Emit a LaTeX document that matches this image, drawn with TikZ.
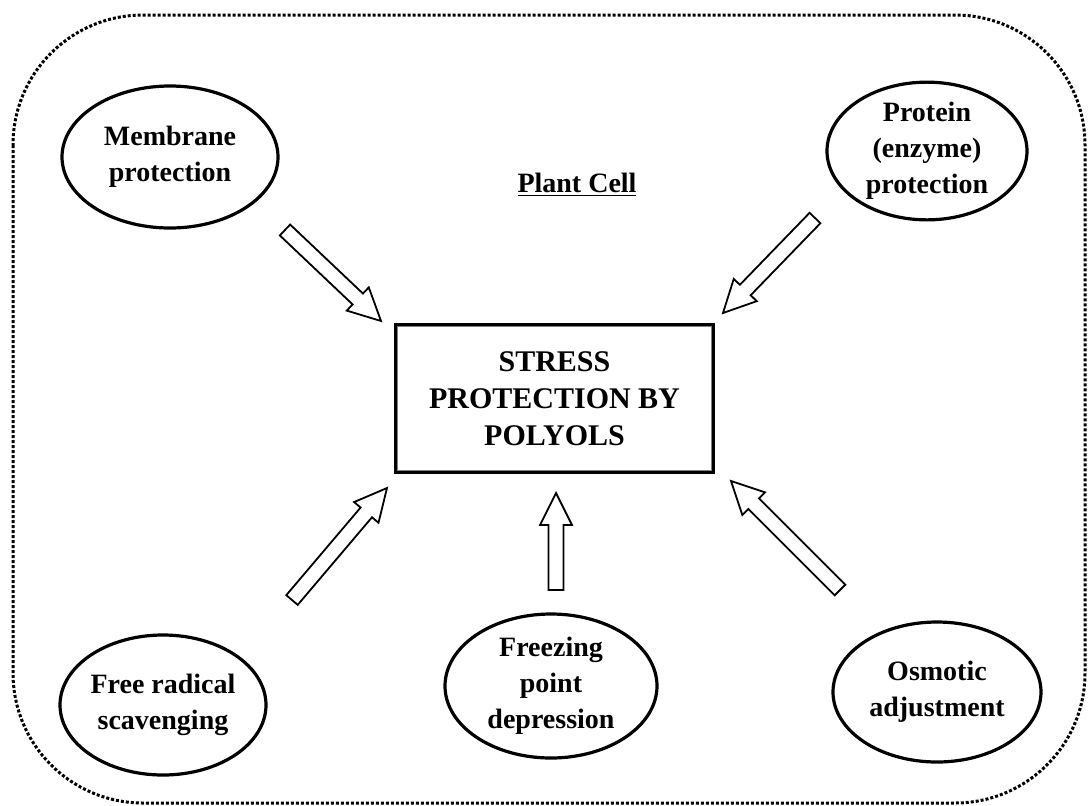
\documentclass[tikz,border=0pt]{standalone}
\usepackage{fontspec}
\setmainfont{Liberation Serif}
\usetikzlibrary{calc,shapes.geometric}
\tikzset{
  bubble/.style={draw, line width=1.6pt, ellipse, inner sep=0pt, align=center, font=\bfseries\fontsize{14}{18}\selectfont},
  blockarr/.style={draw, line width=0.9pt, fill=white, line join=miter},
  frame/.style={line width=1.5pt, dash pattern=on 1.5pt off 1pt, rounded corners=65pt},
  mainbox/.style={draw, line width=2.2pt, align=center, font=\bfseries\fontsize{15}{18.5}\selectfont},
  title/.style={font=\bfseries\fontsize{14}{18}\selectfont},
}
\newcommand\blockarrow[2]{%
  \coordinate (ba) at ($(#2)!16pt!(#1)$);
  \draw[blockarr] ($(#1)!3.75pt!90:(#2)$) -- ($(ba)!3.75pt!90:(#2)$) -- ($(ba)!8pt!90:(#2)$) -- (#2)
    -- ($(ba)!8pt!-90:(#2)$) -- ($(ba)!3.75pt!-90:(#2)$) -- ($(#1)!3.75pt!-90:(#2)$) -- cycle;
}
\begin{document}
\begin{tikzpicture}[x=0.5pt,y=-0.5pt]
\useasboundingbox (0,0) rectangle (1088,805);
\draw[frame] (13,15) rectangle (1085,803);
\node[bubble, minimum width=108pt, minimum height=71pt] (m) at (170,157) {Membrane\\protection};
\node[bubble, minimum width=100pt, minimum height=68pt] (p) at (927,151) {Protein\\(enzyme)\\protection};
\node[bubble, minimum width=103pt, minimum height=70pt] (f) at (163,705) {Free radical\\scavenging};
\node[bubble, minimum width=106pt, minimum height=72pt] (z) at (551,686) {Freezing\\point\\depression};
\node[bubble, minimum width=104pt, minimum height=70pt] (o) at (937,692) {Osmotic\\adjustment};
\node[title] (pc) at (577,185) {\underline{Plant Cell}};
\node[mainbox, minimum width=158.5pt, minimum height=73.5pt] (box) at (554.5,398.5) {STRESS\\PROTECTION BY\\POLYOLS};
\draw[gray, line width=0.5pt] ($(box.north west)+(4,4)$) rectangle ($(box.south east)+(-4,-4)$);
\coordinate (a1t) at (285,230); \coordinate (a1h) at (381,321);
\coordinate (a2t) at (815,218); \coordinate (a2h) at (723,313);
\coordinate (a3t) at (292,600); \coordinate (a3h) at (387,488);
\coordinate (a4t) at (556,590); \coordinate (a4h) at (556,493);
\coordinate (a5t) at (840,590); \coordinate (a5h) at (731,481);
\blockarrow{a1t}{a1h}
\blockarrow{a2t}{a2h}
\blockarrow{a3t}{a3h}
\blockarrow{a4t}{a4h}
\blockarrow{a5t}{a5h}
\end{tikzpicture}
\end{document}
